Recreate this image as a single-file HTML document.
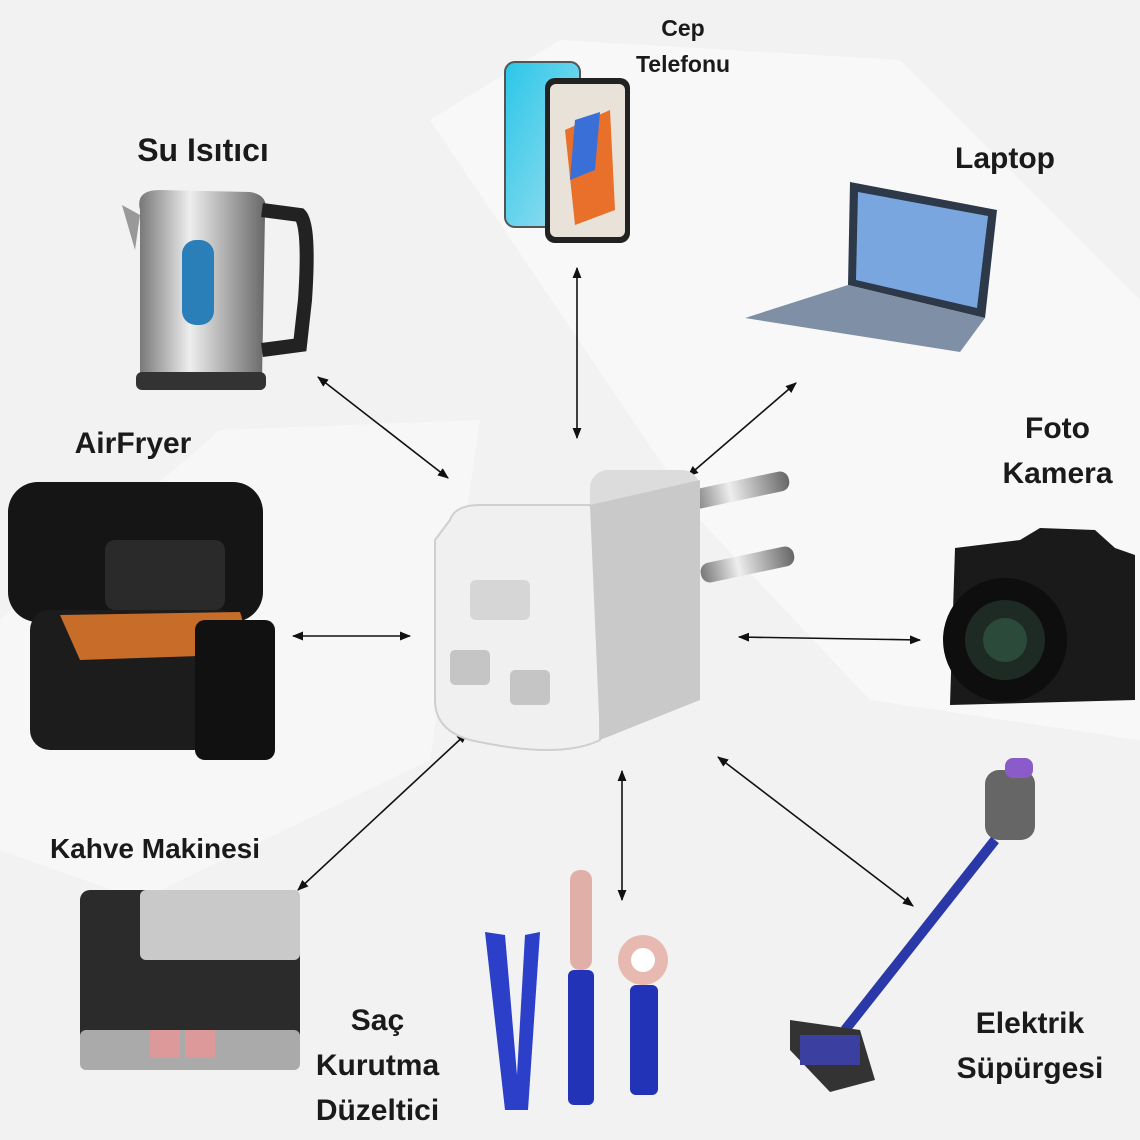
<!DOCTYPE html>
<html><head><meta charset="utf-8">
<style>
html,body{margin:0;padding:0}
body{width:1140px;height:1140px;position:relative;overflow:hidden;background:#f2f2f2;font-family:"Liberation Sans","DejaVu Sans",sans-serif}
.l{position:absolute;color:#1a1a1a;font-weight:bold;text-align:center;line-height:1.4;white-space:nowrap}
svg{position:absolute;left:0;top:0}
</style></head><body>
<svg width="1140" height="1140" viewBox="0 0 1140 1140">
<defs>
<marker id="a" viewBox="0 0 10 10" refX="9" refY="5" markerWidth="7" markerHeight="7" orient="auto-start-reverse"><path d="M0,1 L10,5 L0,9 z" fill="#111"/></marker>
<linearGradient id="sil" x1="0" x2="1"><stop offset="0" stop-color="#777"/><stop offset=".4" stop-color="#eee"/><stop offset="1" stop-color="#666"/></linearGradient>
<linearGradient id="ph" x1="0" y1="0" x2="1" y2="1"><stop offset="0" stop-color="#2bc6e8"/><stop offset="1" stop-color="#9fe0f0"/></linearGradient>
</defs>
<!-- background watermark -->
<polygon points="430,120 560,40 900,60 1140,300 1140,740 870,700 700,520" fill="#f8f8f8"/>
<polygon points="0,620 220,430 480,420 430,760 140,900 0,850" fill="#f7f7f7"/>
<!-- arrows -->
<g stroke="#111" stroke-width="1.6" fill="none" marker-start="url(#a)" marker-end="url(#a)">
<line x1="577" y1="268" x2="577" y2="438"/>
<line x1="318" y1="377" x2="448" y2="478"/>
<line x1="796" y1="383" x2="688" y2="476"/>
<line x1="293" y1="636" x2="410" y2="636"/>
<line x1="739" y1="637" x2="920" y2="640"/>
<line x1="298" y1="890" x2="467" y2="733"/>
<line x1="622" y1="771" x2="622" y2="900"/>
<line x1="718" y1="757" x2="913" y2="906"/>
</g>
<!-- phone -->
<rect x="505" y="62" width="75" height="165" rx="10" fill="url(#ph)" stroke="#555" stroke-width="2"/>
<rect x="545" y="78" width="85" height="165" rx="10" fill="#222"/>
<rect x="550" y="84" width="75" height="153" rx="6" fill="#e8e2d8"/>
<polygon points="565,130 610,110 615,210 575,225" fill="#e8702a"/>
<polygon points="575,120 600,112 595,170 570,180" fill="#3a6fd8"/>
<!-- kettle -->
<path d="M140,210 Q135,190 160,190 L250,192 Q270,195 265,215 L262,380 Q200,395 140,380 Z" fill="url(#sil)"/>
<path d="M262,210 L300,215 Q310,225 305,300 L300,345 L262,350" fill="none" stroke="#222" stroke-width="14"/>
<rect x="182" y="240" width="32" height="85" rx="14" fill="#2a7fb8"/>
<rect x="136" y="372" width="130" height="18" rx="6" fill="#333"/>
<path d="M140,215 L122,205 L135,250 Z" fill="#999"/>
<!-- laptop -->
<polygon points="850,182 997,210 985,318 848,285" fill="#2d3848"/>
<polygon points="858,192 988,216 977,308 856,280" fill="#7aa6e0"/>
<polygon points="848,285 985,318 960,352 745,318" fill="#7f8fa5"/>
<!-- airfryer -->
<rect x="8" y="482" width="255" height="140" rx="30" fill="#151515"/>
<rect x="105" y="540" width="120" height="70" rx="10" fill="#2a2a2a"/>
<rect x="30" y="610" width="210" height="140" rx="20" fill="#1c1c1c"/>
<path d="M60,615 L240,612 Q250,640 230,655 L80,660 Z" fill="#c86c2a"/>
<rect x="195" y="620" width="80" height="140" rx="10" fill="#111"/>
<!-- adapter -->
<rect x="590" y="470" width="110" height="190" rx="18" fill="#dcdcdc"/>
<rect x="690" y="480" width="100" height="20" rx="9" fill="url(#sil)" transform="rotate(-12 740 490)"/>
<rect x="700" y="555" width="95" height="20" rx="9" fill="url(#sil)" transform="rotate(-12 745 565)"/>
<path d="M450,520 Q455,505 480,505 L590,505 Q600,520 600,540 L600,740 Q560,760 470,740 Q435,730 435,700 L435,540 Z" fill="#f0f0f0" stroke="#cfcfcf" stroke-width="2"/>
<path d="M590,505 L700,480 L700,700 L600,740 Z" fill="#c9c9c9"/>
<rect x="470" y="580" width="60" height="40" rx="6" fill="#d6d6d6"/>
<rect x="450" y="650" width="40" height="35" rx="5" fill="#c5c5c5"/>
<rect x="510" y="670" width="40" height="35" rx="5" fill="#c5c5c5"/>
<!-- camera -->
<path d="M955,548 L1020,540 L1040,528 L1095,530 L1115,548 L1135,555 L1135,700 L950,705 Z" fill="#1a1a1a"/>
<circle cx="1005" cy="640" r="62" fill="#0e0e0e"/>
<circle cx="1005" cy="640" r="40" fill="#1e2b25"/>
<circle cx="1005" cy="640" r="22" fill="#2c4a3a"/>
<!-- coffee machine -->
<rect x="80" y="890" width="220" height="180" rx="10" fill="#2b2b2b"/>
<rect x="140" y="890" width="160" height="70" rx="6" fill="#c9c9c9"/>
<rect x="80" y="1030" width="220" height="40" rx="6" fill="#aaa"/>
<rect x="150" y="1030" width="30" height="28" fill="#d99"/>
<rect x="185" y="1030" width="30" height="28" fill="#d99"/>
<!-- hair tools -->
<polygon points="485,932 505,935 520,1110 505,1110" fill="#2b3fc8"/>
<polygon points="525,935 540,932 528,1110 515,1110" fill="#2b3fc8"/>
<rect x="570" y="870" width="22" height="100" rx="10" fill="#e0b0a8"/>
<rect x="568" y="970" width="26" height="135" rx="6" fill="#2233b8"/>
<circle cx="643" cy="960" r="25" fill="#e7b9b0"/>
<circle cx="643" cy="960" r="12" fill="#fff"/>
<rect x="630" y="985" width="28" height="110" rx="6" fill="#2233b8"/>
<!-- vacuum -->
<rect x="985" y="770" width="50" height="70" rx="14" fill="#666"/>
<rect x="1005" y="758" width="28" height="20" rx="8" fill="#8b5cc9"/>
<line x1="995" y1="840" x2="845" y2="1030" stroke="#2b38a8" stroke-width="10"/>
<path d="M790,1020 L860,1030 L875,1080 L830,1092 L790,1050 Z" fill="#333"/>
<rect x="800" y="1035" width="60" height="30" fill="#3a3fa0"/>
</svg>
<div class="l" style="left:623px;top:10px;width:120px;font-size:23px;line-height:36px">Cep<br>Telefonu</div>
<div class="l" style="left:100px;top:128px;width:206px;font-size:32px">Su Isıtıcı</div>
<div class="l" style="left:925px;top:138px;width:160px;font-size:30px">Laptop</div>
<div class="l" style="left:50px;top:423px;width:166px;font-size:30px">AirFryer</div>
<div class="l" style="left:985px;top:406px;width:145px;font-size:30px;line-height:45px">Foto<br>Kamera</div>
<div class="l" style="left:10px;top:829px;width:290px;font-size:28px">Kahve Makinesi</div>
<div class="l" style="left:300px;top:998px;width:155px;font-size:30px;line-height:45px">Saç<br>Kurutma<br>Düzeltici</div>
<div class="l" style="left:935px;top:1001px;width:190px;font-size:30px;line-height:45px">Elektrik<br>Süpürgesi</div>
</body></html>
